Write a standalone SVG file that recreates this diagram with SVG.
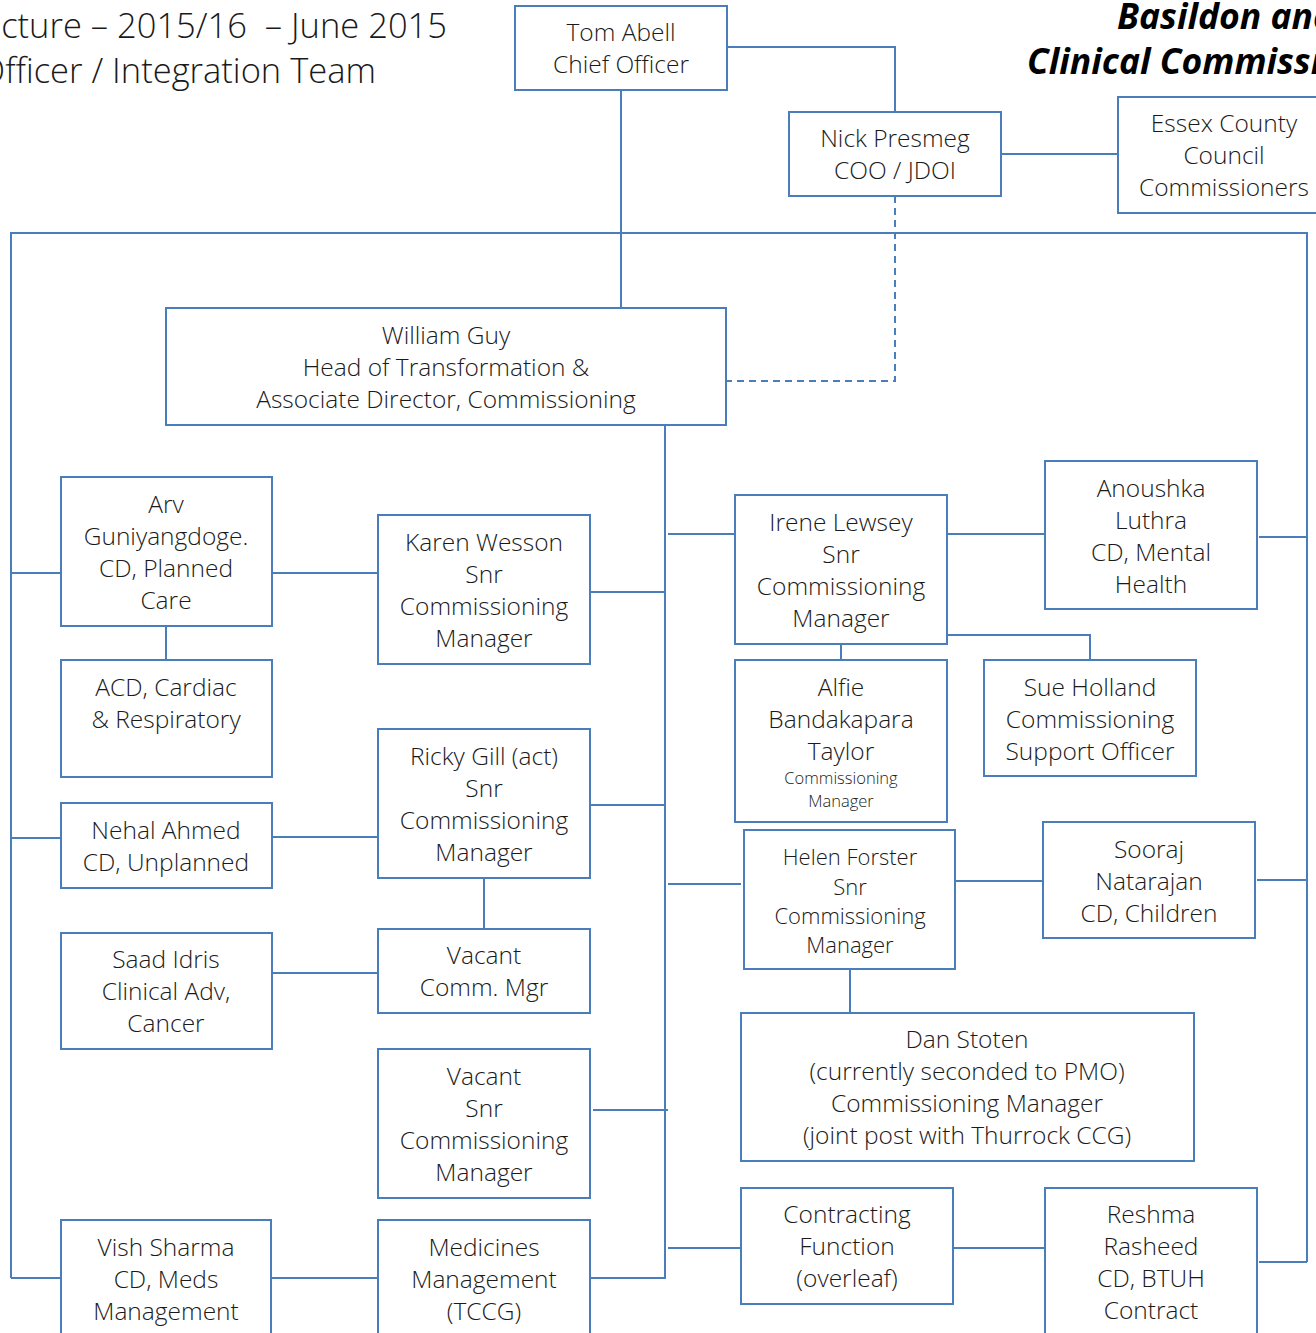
<svg xmlns="http://www.w3.org/2000/svg" width="1316" height="1333" viewBox="0 0 1316 1333">
<style>
  .box { fill: #ffffff; stroke: #4a7ebb; stroke-width: 2; }
  .ln { fill: none; stroke: #4a7ebb; stroke-width: 2; }
  .dash { fill: none; stroke: #4a7ebb; stroke-width: 2; stroke-dasharray: 7 5; }
  text { font-family: "Open Sans", "Segoe UI", "Liberation Sans", sans-serif; font-weight: 300; fill: #1a1a1a; }
  .t { font-size: 24.5px; text-anchor: middle; }
  .tm { font-size: 22px; text-anchor: middle; }
  .ts { font-size: 16.5px; text-anchor: middle; }
  .title { font-size: 34.5px; }
  .brand { font-family: "Open Sans", "Liberation Sans", sans-serif; font-weight: 700; font-style: italic; font-size: 35.5px; fill: #000000; }
</style>
<rect width="1316" height="1333" fill="#ffffff"/>

<g id="titles">
  <text class="title" x="447" y="38" text-anchor="end" xml:space="preserve">cture – 2015/16  – June 2015</text>
  <text class="title" x="376" y="83" text-anchor="end">Officer / Integration Team</text>
  <text class="brand" x="1117" y="29">Basildon and</text>
  <text class="brand" x="1027" y="74">Clinical Commissioning</text>
</g>

<g id="connectors">
  <path class="ln" d="M727 47 H895 V112"/>
  <path class="ln" d="M1002 154 H1118"/>
  <path class="ln" d="M621 90 V308"/>
  <path class="ln" d="M11 1278 V233 H1307 V1262"/>
  <path class="dash" d="M895 196 V381 H726"/>
  <path class="ln" d="M665 425 V1278 H590"/>
  <path class="ln" d="M11 573 H61"/>
  <path class="ln" d="M11 838 H61"/>
  <path class="ln" d="M11 1278 H61"/>
  <path class="ln" d="M272 573 H378"/>
  <path class="ln" d="M166 626 V660"/>
  <path class="ln" d="M590 592 H665"/>
  <path class="ln" d="M272 837 H378"/>
  <path class="ln" d="M590 805 H665"/>
  <path class="ln" d="M484 878 V929"/>
  <path class="ln" d="M272 973 H378"/>
  <path class="ln" d="M593 1110 H668"/>
  <path class="ln" d="M271 1278 H378"/>
  <path class="ln" d="M668 534 H735"/>
  <path class="ln" d="M948 534 H1045"/>
  <path class="ln" d="M1259 537 H1307"/>
  <path class="ln" d="M841 644 V660"/>
  <path class="ln" d="M947 635 H1090 V660"/>
  <path class="ln" d="M668 884 H741"/>
  <path class="ln" d="M956 881 H1043"/>
  <path class="ln" d="M1257 880 H1307"/>
  <path class="ln" d="M850 969 V1013"/>
  <path class="ln" d="M668 1248 H741"/>
  <path class="ln" d="M953 1248 H1048"/>
  <path class="ln" d="M1259 1262 H1307"/>
</g>

<g id="tom-abell">
  <rect class="box" x="515" y="6" width="212" height="84"/>
  <text class="t" x="621" y="41">Tom Abell</text>
  <text class="t" x="621" y="73">Chief Officer</text>
</g>
<g id="nick-presmeg">
  <rect class="box" x="789" y="112" width="212" height="84"/>
  <text class="t" x="895" y="147">Nick Presmeg</text>
  <text class="t" x="895" y="179">COO / JDOI</text>
</g>
<g id="essex-county-council">
  <rect class="box" x="1118" y="97" width="210" height="116"/>
  <text class="t" x="1224" y="132">Essex County</text>
  <text class="t" x="1224" y="164">Council</text>
  <text class="t" x="1224" y="196">Commissioners</text>
</g>
<g id="william-guy">
  <rect class="box" x="166" y="308" width="560" height="117"/>
  <text class="t" x="446" y="344">William Guy</text>
  <text class="t" x="446" y="376">Head of Transformation &amp;</text>
  <text class="t" x="446" y="408">Associate Director, Commissioning</text>
</g>
<g id="arv-guniyangdoge">
  <rect class="box" x="61" y="477" width="211" height="149"/>
  <text class="t" x="166" y="513">Arv</text>
  <text class="t" x="166" y="545">Guniyangdoge.</text>
  <text class="t" x="166" y="577">CD, Planned</text>
  <text class="t" x="166" y="609">Care</text>
</g>
<g id="acd-cardiac">
  <rect class="box" x="61" y="660" width="211" height="117"/>
  <text class="t" x="166" y="696">ACD, Cardiac</text>
  <text class="t" x="166" y="728">&amp; Respiratory</text>
</g>
<g id="nehal-ahmed">
  <rect class="box" x="61" y="803" width="211" height="85"/>
  <text class="t" x="166" y="839">Nehal Ahmed</text>
  <text class="t" x="166" y="871">CD, Unplanned</text>
</g>
<g id="saad-idris">
  <rect class="box" x="61" y="933" width="211" height="116"/>
  <text class="t" x="166" y="968">Saad Idris</text>
  <text class="t" x="166" y="1000">Clinical Adv,</text>
  <text class="t" x="166" y="1032">Cancer</text>
</g>
<g id="vish-sharma">
  <rect class="box" x="61" y="1220" width="210" height="130"/>
  <text class="t" x="166" y="1256">Vish Sharma</text>
  <text class="t" x="166" y="1288">CD, Meds</text>
  <text class="t" x="166" y="1320">Management</text>
</g>
<g id="karen-wesson">
  <rect class="box" x="378" y="515" width="212" height="149"/>
  <text class="t" x="484" y="551">Karen Wesson</text>
  <text class="t" x="484" y="583">Snr</text>
  <text class="t" x="484" y="615">Commissioning</text>
  <text class="t" x="484" y="647">Manager</text>
</g>
<g id="ricky-gill">
  <rect class="box" x="378" y="729" width="212" height="149"/>
  <text class="t" x="484" y="765">Ricky Gill (act)</text>
  <text class="t" x="484" y="797">Snr</text>
  <text class="t" x="484" y="829">Commissioning</text>
  <text class="t" x="484" y="861">Manager</text>
</g>
<g id="vacant-comm-mgr">
  <rect class="box" x="378" y="929" width="212" height="84"/>
  <text class="t" x="484" y="964">Vacant</text>
  <text class="t" x="484" y="996">Comm. Mgr</text>
</g>
<g id="vacant-snr">
  <rect class="box" x="378" y="1049" width="212" height="149"/>
  <text class="t" x="484" y="1085">Vacant</text>
  <text class="t" x="484" y="1117">Snr</text>
  <text class="t" x="484" y="1149">Commissioning</text>
  <text class="t" x="484" y="1181">Manager</text>
</g>
<g id="medicines-management">
  <rect class="box" x="378" y="1220" width="212" height="130"/>
  <text class="t" x="484" y="1256">Medicines</text>
  <text class="t" x="484" y="1288">Management</text>
  <text class="t" x="484" y="1320">(TCCG)</text>
</g>
<g id="irene-lewsey">
  <rect class="box" x="735" y="495" width="212" height="149"/>
  <text class="t" x="841" y="531">Irene Lewsey</text>
  <text class="t" x="841" y="563">Snr</text>
  <text class="t" x="841" y="595">Commissioning</text>
  <text class="t" x="841" y="627">Manager</text>
</g>
<g id="anoushka-luthra">
  <rect class="box" x="1045" y="461" width="212" height="148"/>
  <text class="t" x="1151" y="497">Anoushka</text>
  <text class="t" x="1151" y="529">Luthra</text>
  <text class="t" x="1151" y="561">CD, Mental</text>
  <text class="t" x="1151" y="593">Health</text>
</g>
<g id="alfie-bandakapara-taylor">
  <rect class="box" x="735" y="660" width="212" height="162"/>
  <text class="t" x="841" y="696">Alfie</text>
  <text class="t" x="841" y="728">Bandakapara</text>
  <text class="t" x="841" y="760">Taylor</text>
  <text class="ts" x="841" y="784">Commissioning</text>
  <text class="ts" x="841" y="807">Manager</text>
</g>
<g id="sue-holland">
  <rect class="box" x="984" y="660" width="212" height="116"/>
  <text class="t" x="1090" y="696">Sue Holland</text>
  <text class="t" x="1090" y="728">Commissioning</text>
  <text class="t" x="1090" y="760">Support Officer</text>
</g>
<g id="helen-forster">
  <rect class="box" x="744" y="830" width="211" height="139"/>
  <text class="tm" x="850" y="865">Helen Forster</text>
  <text class="tm" x="850" y="895">Snr</text>
  <text class="tm" x="850" y="924">Commissioning</text>
  <text class="tm" x="850" y="953">Manager</text>
</g>
<g id="sooraj-natarajan">
  <rect class="box" x="1043" y="822" width="212" height="116"/>
  <text class="t" x="1149" y="858">Sooraj</text>
  <text class="t" x="1149" y="890">Natarajan</text>
  <text class="t" x="1149" y="922">CD, Children</text>
</g>
<g id="dan-stoten">
  <rect class="box" x="741" y="1013" width="453" height="148"/>
  <text class="t" x="967" y="1048">Dan Stoten</text>
  <text class="t" x="967" y="1080">(currently seconded to PMO)</text>
  <text class="t" x="967" y="1112">Commissioning Manager</text>
  <text class="t" x="967" y="1144">(joint post with Thurrock CCG)</text>
</g>
<g id="contracting-function">
  <rect class="box" x="741" y="1188" width="212" height="116"/>
  <text class="t" x="847" y="1223">Contracting</text>
  <text class="t" x="847" y="1255">Function</text>
  <text class="t" x="847" y="1287">(overleaf)</text>
</g>
<g id="reshma-rasheed">
  <rect class="box" x="1045" y="1188" width="212" height="160"/>
  <text class="t" x="1151" y="1223">Reshma</text>
  <text class="t" x="1151" y="1255">Rasheed</text>
  <text class="t" x="1151" y="1287">CD, BTUH</text>
  <text class="t" x="1151" y="1319">Contract</text>
</g>
</svg>
